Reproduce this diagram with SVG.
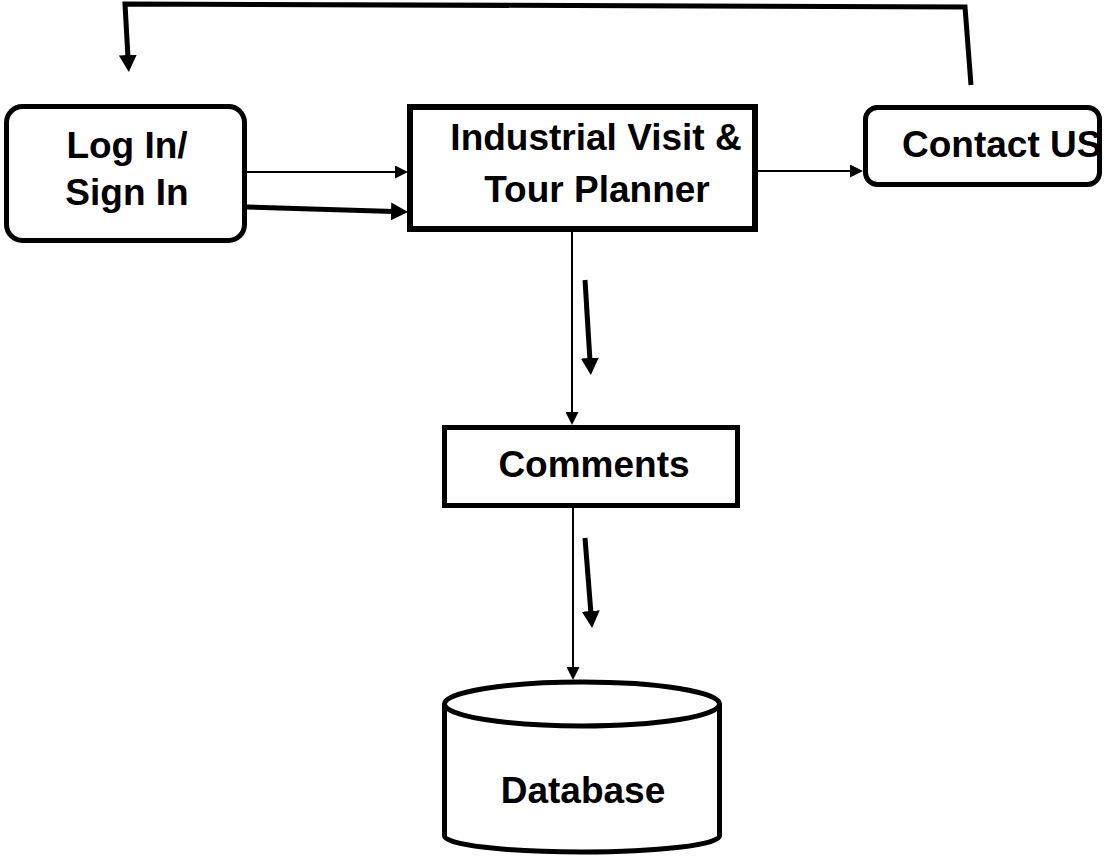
<svg xmlns="http://www.w3.org/2000/svg" width="1104" height="858" viewBox="0 0 1104 858">
<style>
.box{fill:#fff;stroke:#000;stroke-width:5}
.lbl{font-family:"Liberation Sans",Arial,sans-serif;font-weight:bold;font-size:37px;fill:#000}
.thin{fill:none;stroke:#000;stroke-width:2;marker-end:url(#ah)}
.thick{fill:none;stroke:#000;stroke-width:5;marker-end:url(#ahb)}
</style>
<defs>
<marker id="ah" markerUnits="userSpaceOnUse" markerWidth="13" markerHeight="13" refX="3" refY="6.5" orient="auto"><path d="M0,0 L13,6.5 L0,13 z" fill="#000"/></marker>
<marker id="ahb" markerUnits="userSpaceOnUse" markerWidth="17" markerHeight="18" refX="3" refY="9" orient="auto"><path d="M0,0 L17,9 L0,18 z" fill="#000"/></marker>
</defs>
<rect width="1104" height="858" fill="#fff"/>
<g id="connectors">
<polyline class="thick" points="971,85 965,7 125,4 128,58"/>
<line class="thin" x1="247" y1="172" x2="398" y2="172"/>
<line class="thick" x1="247" y1="207" x2="394" y2="211.5"/>
<line class="thin" x1="758" y1="171" x2="853" y2="171"/>
<line class="thin" x1="572" y1="232" x2="572" y2="415"/>
<line class="thick" x1="585" y1="280" x2="590" y2="361"/>
<line class="thin" x1="573" y1="508" x2="573" y2="670"/>
<line class="thick" x1="585" y1="538" x2="591" y2="614"/>
</g>
<g id="login">
<rect class="box" x="6.5" y="106.5" width="238" height="134" rx="16"/>
<text class="lbl" x="127" y="158" text-anchor="middle">Log In/</text>
<text class="lbl" x="127" y="205" text-anchor="middle">Sign In</text>
</g>
<g id="planner">
<rect class="box" x="410" y="107" width="345" height="122" style="stroke-width:6"/>
<text class="lbl" x="596" y="150" text-anchor="middle">Industrial Visit &amp;</text>
<text class="lbl" x="597" y="202" text-anchor="middle">Tour Planner</text>
</g>
<g id="contact">
<rect class="box" x="865.5" y="107.5" width="234" height="77" rx="12"/>
<text class="lbl" x="902" y="157">Contact US</text>
</g>
<g id="comments">
<rect class="box" x="444.5" y="427.5" width="293" height="78"/>
<text class="lbl" x="594" y="477" text-anchor="middle">Comments</text>
</g>
<g id="database">
<path class="box" d="M444.5,704 L444.5,836 A137.5,16 0 0 0 719.5,836 L719.5,704"/>
<ellipse class="box" cx="582" cy="704" rx="137.5" ry="22"/>
<text class="lbl" x="583" y="803" text-anchor="middle">Database</text>
</g>
</svg>
